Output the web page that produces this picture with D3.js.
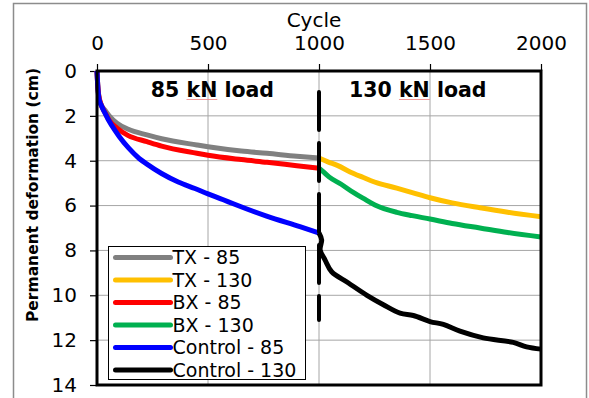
<!DOCTYPE html>
<html>
<head>
<meta charset="utf-8">
<script src="https://cdn.jsdelivr.net/npm/d3@7"></script>
<style>
  html, body { margin: 0; padding: 0; background: #fff; }
  svg { display: block; font-family: "DejaVu Sans", Verdana, sans-serif; }
</style>
</head>
<body>
<svg id="chart" width="589" height="398"></svg>
<script>
// Axis ticks
const xTicks = [0, 500, 1000, 1500, 2000];
const yTicks = [0, 2, 4, 6, 8, 10, 12, 14];

// Permanent deformation (cm) against load cycle
const tx85Cycle = [0, 3, 8, 15, 36, 55, 90, 141, 225, 291, 450, 500, 650, 766, 900, 1000];
const tx85Def   = [0, 0.6, 1.1, 1.4, 1.75, 2.0, 2.33, 2.6, 2.85, 3.02, 3.3, 3.38, 3.57, 3.67, 3.8, 3.88];

const tx130Cycle = [1000, 1040, 1085, 1140, 1200, 1250, 1350, 1420, 1500, 1600, 1725, 1850, 2000];
const tx130Def   = [3.88, 4.05, 4.22, 4.5, 4.75, 4.95, 5.22, 5.42, 5.65, 5.88, 6.1, 6.3, 6.5];

const bx85Cycle = [0, 3, 8, 15, 36, 55, 90, 141, 225, 291, 450, 500, 650, 766, 900, 1000];
const bx85Def   = [0, 0.6, 1.1, 1.4, 1.85, 2.2, 2.55, 2.88, 3.15, 3.35, 3.67, 3.76, 3.95, 4.07, 4.22, 4.33];

const bx130Cycle = [1000, 1020, 1045, 1100, 1160, 1200, 1252, 1350, 1420, 1500, 1600, 1725, 1850, 2000];
const bx130Def   = [4.33, 4.5, 4.72, 5.05, 5.45, 5.68, 5.97, 6.3, 6.45, 6.6, 6.8, 7.0, 7.2, 7.4];

const control85Cycle = [0, 3, 9, 20, 36, 50, 81, 100, 141, 190, 225, 291, 366, 441, 500, 569, 614, 764, 914, 1000];
const control85Def   = [0, 0.6, 1.25, 1.55, 1.88, 2.15, 2.65, 2.92, 3.42, 3.9, 4.15, 4.57, 4.95, 5.24, 5.48, 5.74, 5.92, 6.47, 6.94, 7.22];

const control130Cycle = [1000, 1012, 1005, 1027, 1057, 1131, 1216, 1290, 1365, 1425, 1500, 1560, 1635, 1740, 1875, 1935, 2000];
const control130Def   = [7.22, 7.53, 7.97, 8.42, 8.95, 9.44, 10.0, 10.42, 10.8, 10.9, 11.17, 11.3, 11.6, 11.9, 12.1, 12.3, 12.4];

const seriesNames  = ["TX - 85", "TX - 130", "BX - 85", "BX - 130", "Control - 85", "Control - 130"];
const seriesColors = ["#808080", "#FFC000", "#FF0000", "#00B050", "#0000FF", "#000000"];
const seriesCycles = [tx85Cycle, tx130Cycle, bx85Cycle, bx130Cycle, control85Cycle, control130Cycle];
const seriesDefs   = [tx85Def, tx130Def, bx85Def, bx130Def, control85Def, control130Def];

const loadLabels = ["85 kN load", "130 kN load"];
const loadLabelCycle = [520, 1445];
const loadChangeCycle = 1000;

const svg = d3.select("#chart");

// Outer chart border
svg.append("rect")
  .attr("x", 13.5).attr("y", 3.5)
  .attr("width", 573).attr("height", 420)
  .attr("fill", "none").attr("stroke", "#8c8c8c").attr("stroke-width", 1.5);

const x = d3.scaleLinear().domain([0, 2000]).range([97, 541]);
const y = d3.scaleLinear().domain([0, 14]).range([71, 385]);

// Gridlines
const grid = svg.append("g").attr("stroke", "#a6a6a6").attr("stroke-width", 1);
grid.selectAll(".gx").data(xTicks.slice(1, -1)).join("line")
  .attr("x1", d => x(d)).attr("x2", d => x(d))
  .attr("y1", y(0)).attr("y2", y(14));
grid.selectAll(".gy").data(yTicks.slice(1, -1)).join("line")
  .attr("x1", x(0)).attr("x2", x(2000))
  .attr("y1", d => y(d)).attr("y2", d => y(d));

// Axes (cycle along the top, deformation down the left)
const xAxis = svg.append("g")
  .attr("transform", `translate(0,${y(0)})`)
  .call(d3.axisTop(x).tickValues(xTicks).tickSize(7).tickPadding(14).tickFormat(d3.format("d")));
const yAxis = svg.append("g")
  .attr("transform", `translate(${x(0)},0)`)
  .call(d3.axisLeft(y).tickValues(yTicks).tickSize(7).tickPadding(13).tickFormat(d3.format("d")));
[xAxis, yAxis].forEach(a => {
  a.select(".domain").remove();
  a.selectAll(".tick line").attr("stroke", "#000").attr("stroke-width", 1.2);
  a.selectAll(".tick text").attr("fill", "#000").style("font-size", "20px")
    .style("font-family", "'DejaVu Sans', Verdana, sans-serif");
});

// Load stage captions, with the proofing underline under "kN"
const captions = svg.selectAll(".stage").data(loadLabels).join("text")
  .attr("class", "stage")
  .attr("x", (d, i) => x(loadLabelCycle[i]))
  .attr("y", 97)
  .attr("text-anchor", "middle")
  .style("font-weight", "bold").style("font-size", "20.5px")
  .text(d => d);
captions.each(function(d) {
  const k = d.indexOf("kN");
  const x0 = this.getStartPositionOfChar(k).x;
  const x1 = this.getEndPositionOfChar(k + 1).x;
  svg.append("line")
    .attr("x1", x0).attr("x2", x1)
    .attr("y1", 99.5).attr("y2", 99.5)
    .attr("stroke", "#f08080").attr("stroke-width", 0.8);
});

// Series lines
const smooth = d3.line().x(d => x(d[0])).y(d => y(d[1])).curve(d3.curveMonotoneX);
const free = d3.line().x(d => x(d[0])).y(d => y(d[1])).curve(d3.curveCatmullRom.alpha(0.5));
const plot = svg.append("g");
seriesNames.forEach((name, i) => {
  const pts = seriesCycles[i].map((c, k) => [c, seriesDefs[i][k]]);
  const monotone = seriesCycles[i].every((c, k, a) => k === 0 || c > a[k - 1]);
  plot.append("path")
    .datum(pts)
    .attr("d", monotone ? smooth : free)
    .attr("fill", "none")
    .attr("stroke", seriesColors[i])
    .attr("stroke-width", 5)
    .attr("stroke-linejoin", "round")
    .attr("stroke-linecap", "butt");
});

// Load change marker
svg.append("line")
  .attr("x1", x(loadChangeCycle)).attr("x2", x(loadChangeCycle))
  .attr("y1", y(0.94)).attr("y2", y(11.1))
  .attr("stroke", "#000").attr("stroke-width", 4)
  .attr("stroke-dasharray", "38 13")
  .attr("stroke-linecap", "round");

// Plot frame
svg.append("rect")
  .attr("x", x(0)).attr("y", y(0))
  .attr("width", x(2000) - x(0)).attr("height", y(14) - y(0))
  .attr("fill", "none").attr("stroke", "#000").attr("stroke-width", 3);

// Legend
const legend = svg.append("g").attr("transform", "translate(108.5,246.5)");
legend.append("rect")
  .attr("width", 197).attr("height", 133)
  .attr("fill", "#fff").attr("stroke", "#000").attr("stroke-width", 1);
const rows = legend.selectAll(".row").data(seriesNames).join("g")
  .attr("transform", (d, i) => `translate(0,${11 + i * 22.5})`);
rows.append("line")
  .attr("x1", 7).attr("x2", 62)
  .attr("stroke", (d, i) => seriesColors[i])
  .attr("stroke-width", 5).attr("stroke-linecap", "round");
rows.append("text")
  .attr("x", 64).attr("dy", "0.36em")
  .style("font-size", "19px")
  .text(d => d);

// Axis titles
svg.append("text")
  .attr("x", 314).attr("y", 27)
  .attr("text-anchor", "middle")
  .style("font-size", "20px")
  .text("Cycle");
svg.append("text")
  .attr("transform", "translate(38,195) rotate(-90)")
  .attr("text-anchor", "middle")
  .style("font-weight", "bold").style("font-size", "15.5px")
  .text("Permanent deformation (cm)");
</script>
</body>
</html>
